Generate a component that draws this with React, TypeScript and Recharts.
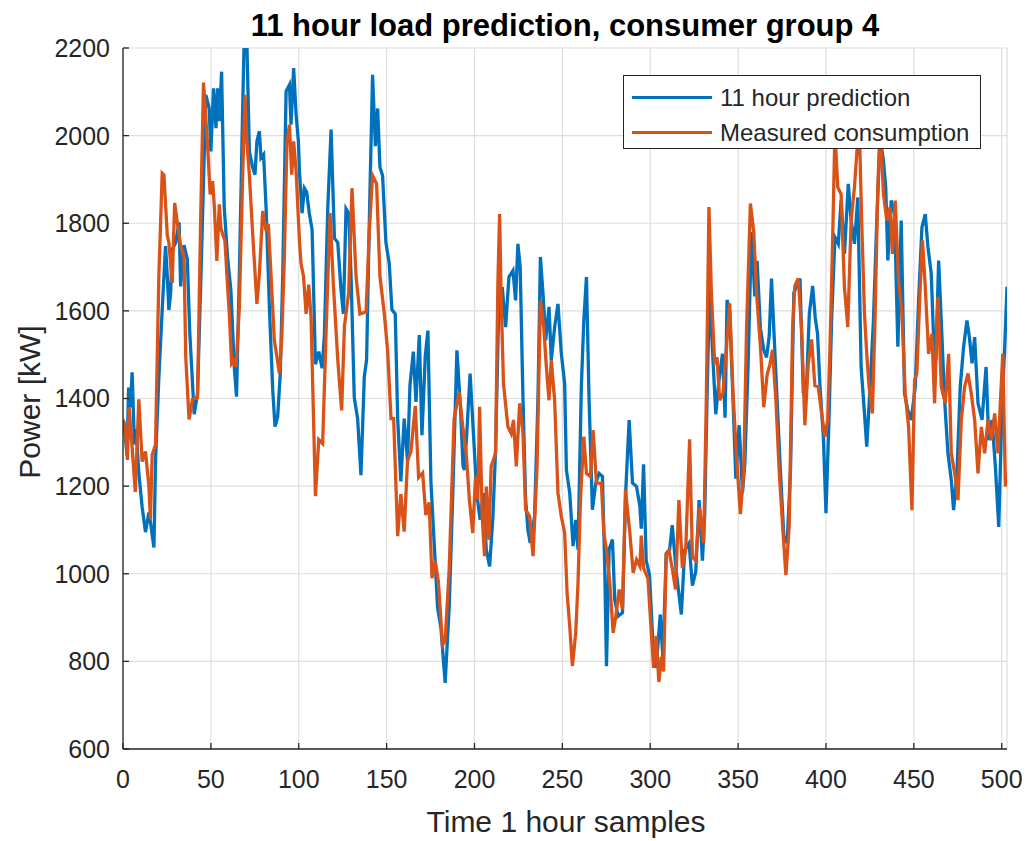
import { LineChart, Line, XAxis, YAxis, CartesianGrid, Legend } from "recharts";

// [sample, kW]
const predictionPoints: [number, number][] = [
  [0, 1340], [0.5, 1348], [2.3, 1270], [3.2, 1425], [4.2, 1380], [5.2, 1460], [6.5, 1295], [7.5, 1330],
  [9, 1230], [10.9, 1152], [12.8, 1095], [14.7, 1140], [15.6, 1118], [17.6, 1060], [18.5, 1256], [20.4, 1448],
  [22.3, 1602], [24.2, 1748], [25.2, 1680], [26.1, 1602], [27.1, 1640], [28, 1740], [30, 1756], [31.9, 1802],
  [32.8, 1656], [34.7, 1750], [36.6, 1718], [38, 1550], [40.5, 1364], [42.4, 1410], [44.5, 1700], [47.1, 2093],
  [49, 2063], [50, 1964], [51.5, 2108], [52.9, 2017], [53.8, 2108], [54.8, 2033], [56.1, 2146], [57.6, 1836],
  [59.5, 1722], [61.4, 1646], [62.4, 1555], [63.3, 1472], [64.6, 1404], [66.2, 1684], [68.1, 2063], [69, 2230],
  [70.5, 2210], [71.9, 1964], [73.8, 1927], [75.1, 1911], [76.2, 1987], [77.6, 2010], [78.5, 1949], [80, 1957],
  [81.4, 1836], [83.3, 1608], [85.2, 1419], [86.5, 1336], [88, 1358], [89.5, 1457], [90.9, 1684], [92.8, 2101],
  [94.7, 2116], [95.6, 2025], [97.1, 2154], [98.5, 2048], [99.8, 1987], [100.4, 1919], [101.9, 1823],
  [103.2, 1880], [104.5, 1871], [106, 1823], [107.6, 1785], [109.5, 1478], [111.4, 1507], [113.3, 1469],
  [114.6, 1545], [116.5, 1833], [118.4, 2014], [120.3, 1766], [122.2, 1756], [124, 1651], [125.4, 1593],
  [126.9, 1833], [128.4, 1823], [129.7, 1689], [131.6, 1402], [133.5, 1354], [135.4, 1225], [137.3, 1450],
  [138.6, 1488], [140.2, 1813], [142, 2139], [143.6, 1976], [144.9, 2062], [146.2, 1928], [147.7, 1909],
  [149.6, 1756], [151.5, 1708], [153, 1603], [154.9, 1593], [156.3, 1354], [158.1, 1211], [160, 1354],
  [161.9, 1258], [163.3, 1431], [165.2, 1507], [166.7, 1392], [168.6, 1545], [170.1, 1316], [172, 1498],
  [173.5, 1555], [175.2, 1211], [177.1, 1067], [179, 923], [180.9, 876], [183.3, 751], [185.6, 923],
  [187.5, 1163], [190, 1510], [192, 1380], [193.5, 1245], [194.3, 1237], [195.6, 1320], [197.5, 1457],
  [199.4, 1320], [201.3, 1184], [203.2, 1123], [205.1, 1184], [206.7, 1055], [208.6, 1017], [210.5, 1131],
  [212, 1283], [213.9, 1624], [215.8, 1654], [217.7, 1563], [219.6, 1677], [221.9, 1692], [223.4, 1624],
  [224.7, 1753], [226, 1700], [227.6, 1397], [229.1, 1169], [230.4, 1100], [231.7, 1070], [234.2, 1131],
  [236.1, 1397], [237.5, 1723], [239, 1639], [240.5, 1533], [242.4, 1609], [243.7, 1487], [245.6, 1563],
  [247.5, 1616], [249.4, 1503], [251.3, 1434], [252.3, 1237], [254.2, 1184], [256.1, 1063], [257.6, 1123],
  [258.9, 1055], [260.8, 1427], [262.2, 1578], [263.7, 1677], [265.2, 1396], [267.1, 1146], [269, 1207],
  [270.9, 1229], [272.8, 1222], [274.1, 1017], [275.1, 789], [276.6, 1055], [278.5, 1078], [279.8, 941],
  [281.7, 903], [284.2, 911], [286.1, 1192], [288, 1351], [289.9, 1207], [292.2, 1199], [294.1, 1154],
  [294.9, 1103], [296.2, 1250], [297.7, 1030], [299.6, 997], [301.5, 842], [303.4, 785], [305.7, 907],
  [307.2, 810], [309.1, 1046], [311, 1054], [312.5, 1111], [314.8, 1005], [317.7, 907], [319.6, 1054],
  [322.1, 1070], [324, 973], [325.9, 1005], [327.8, 1168], [329.7, 1030], [331, 1136], [332.3, 1396],
  [333.8, 1657], [335.4, 1511], [337.3, 1364], [339.2, 1445], [341.1, 1502], [342.6, 1356], [343.7, 1625],
  [345.2, 1600], [347.1, 1396], [348.7, 1217], [350.6, 1339], [352.5, 1185], [353.8, 1250], [355.7, 1478],
  [357.6, 1780], [359.5, 1633], [360.8, 1714], [362.7, 1560], [364.6, 1511], [366.2, 1494], [367.7, 1543],
  [369, 1674], [370.3, 1560], [372.2, 1396], [374.1, 1233], [376, 1087], [377.9, 1070], [379.8, 1233],
  [381.7, 1641], [383.3, 1657], [385.2, 1674], [387.1, 1413], [388.6, 1396], [390.5, 1592], [392.4, 1657],
  [393.9, 1584], [395.2, 1548], [396.6, 1427], [398.5, 1313], [400, 1138], [401.7, 1351], [403.2, 1578],
  [405.1, 1768], [407, 1753], [408.6, 1852], [410.5, 1730], [412.7, 1890], [414.3, 1806], [416.2, 1753],
  [418.1, 1859], [420, 1472], [421.9, 1366], [423.2, 1290], [425.1, 1427], [427, 1578], [428.9, 1806],
  [430.8, 1996], [432.7, 1943], [434, 1882], [435.2, 1715], [437.1, 1852], [439, 1821], [440.9, 1518],
  [442.8, 1806], [444.7, 1411], [446.6, 1373], [448.5, 1351], [450.8, 1427], [452.7, 1624], [454.6, 1791],
  [456.5, 1821], [458, 1746], [459.9, 1685], [461.2, 1540], [462.5, 1487], [464.1, 1715], [465.6, 1578],
  [467.5, 1396], [469.4, 1275], [471.3, 1214], [472.6, 1145], [474.5, 1229], [476.4, 1427], [478.3, 1518],
  [480.2, 1578], [481.6, 1540], [483.1, 1480], [484.6, 1540], [486.5, 1389], [488.8, 1351], [491.1, 1472],
  [492.6, 1305], [494.5, 1351], [496.4, 1244], [498.3, 1107], [500.2, 1389], [501.7, 1518], [503, 1655],
];

const measuredPoints: [number, number][] = [
  [0, 1352], [1.3, 1333], [2.5, 1260], [3.5, 1380], [5, 1300], [7, 1187], [9, 1398], [10.9, 1256],
  [12.8, 1279], [14.7, 1202], [15.6, 1125], [16.6, 1271], [18.5, 1295], [20.4, 1679], [22.3, 1914],
  [23.3, 1910], [25.2, 1772], [26.1, 1756], [28, 1664], [29.4, 1846], [30.9, 1802], [32.8, 1748],
  [34.7, 1725], [35.7, 1495], [37.6, 1352], [39.5, 1398], [42.4, 1402], [44.3, 1833], [45.8, 2121],
  [48, 1987], [49.6, 1866], [51, 1896], [52, 1836], [53.4, 1714], [54.8, 1843], [55.7, 1790], [56.7, 1775],
  [58, 1760], [59.1, 1684], [60.5, 1593], [61.8, 1480], [63, 1487], [64.3, 1472], [66.2, 1608], [68.1, 1911],
  [69.4, 2093], [70.5, 1987], [71.9, 1911], [73.8, 1775], [76.2, 1616], [77.6, 1684], [79.5, 1828],
  [81.4, 1783], [82.7, 1798], [84.2, 1684], [86.1, 1533], [87.6, 1495], [89, 1457], [90.3, 1533],
  [91.8, 1722], [93.3, 1987], [94.7, 2025], [96, 1911], [97.1, 1987], [98.5, 1919], [100.4, 1760],
  [101.3, 1708], [102.7, 1679], [104.2, 1593], [105.7, 1660], [107, 1584], [109.5, 1177], [111.4, 1306],
  [113.6, 1297], [115.5, 1545], [117.8, 1823], [119.7, 1660], [122.2, 1488], [124.4, 1373], [126, 1565],
  [128.4, 1641], [130.3, 1880], [132.6, 1679], [134.8, 1593], [138.3, 1598], [140.2, 1785], [142, 1909],
  [144.3, 1890], [146.2, 1679], [148.7, 1593], [150.6, 1507], [152.5, 1354], [154, 1354], [156.3, 1086],
  [158.1, 1182], [160, 1096], [161.9, 1258], [163.8, 1278], [166.3, 1383], [168.2, 1220], [170.5, 1230],
  [172.3, 1134], [174.2, 1163], [175.8, 990], [177.7, 1029], [179.5, 981], [181.8, 837], [183.3, 847],
  [185.6, 1010], [188.4, 1354], [191.3, 1415], [193.3, 1336], [195.3, 1275], [197.1, 1169], [199, 1093],
  [200.6, 1222], [201.9, 1169], [202.9, 1381], [204.4, 1131], [205.7, 1040], [206.7, 1199], [208.2, 1078],
  [209.5, 1245], [212, 1275], [213.3, 1662], [214.3, 1821], [215.2, 1624], [216.5, 1434], [219, 1336],
  [220.9, 1320], [222.2, 1351], [223.8, 1245], [225.7, 1389], [227.6, 1320], [229.1, 1146], [231.4, 1131],
  [233.3, 1040], [235.6, 1245], [237.5, 1624], [239.4, 1563], [240.9, 1472], [242.4, 1396], [243.7, 1487],
  [245.6, 1396], [247.5, 1184], [249.4, 1131], [251.3, 1093], [252.7, 956], [254.2, 880], [255.7, 789],
  [257.6, 865], [258.9, 979], [260.3, 1169], [262.2, 1313], [263.7, 1229], [266, 1222], [267.5, 1328],
  [269.4, 1207], [272.2, 1207], [273.6, 1093], [275.1, 1055], [277, 979], [278.9, 865], [280.4, 903],
  [282.3, 964], [284.2, 918], [285.9, 1192], [288.4, 1093], [290.3, 1002], [292.2, 1032], [294.1, 1017],
  [294.9, 1087], [296.2, 1013], [298.7, 989], [300.6, 867], [301.9, 785], [303.4, 858], [304.9, 753],
  [306.3, 810], [307.6, 777], [309.1, 1046], [310.6, 1054], [312.5, 1013], [314.4, 964], [316.3, 1168],
  [318.3, 1013], [320.2, 1054], [322.4, 1307], [324, 1038], [325.9, 1030], [328.1, 1152], [330.4, 1070],
  [331.9, 1396], [333.4, 1837], [334.8, 1641], [336.7, 1478], [338, 1494], [339.5, 1396], [341.4, 1413],
  [343.3, 1511], [345.2, 1617], [347.1, 1413], [349, 1274], [351.3, 1136], [353.2, 1233], [354.8, 1560],
  [357, 1845], [358.9, 1780], [360.5, 1641], [362.7, 1519], [364.6, 1380], [366.5, 1454], [368.1, 1478],
  [369.6, 1511], [371.5, 1396], [373.4, 1233], [375.3, 1111], [377.2, 997], [379.1, 1111], [381, 1560],
  [382.3, 1657], [384.2, 1674], [386.1, 1560], [388, 1339], [389.9, 1478], [391.8, 1535], [393.7, 1429],
  [395.6, 1427], [397.5, 1366], [399.4, 1313], [401, 1351], [402.3, 1518], [403.6, 1730], [405.1, 2010],
  [406.7, 1882], [408.6, 1867], [410.5, 1654], [412.4, 1563], [414.3, 1806], [416.2, 1882], [417.5, 1958],
  [418.8, 2050], [420.3, 1806], [421.9, 1594], [423.2, 1502], [424.5, 1427], [426.4, 1366], [427.9, 1578],
  [429.5, 1882], [430.8, 2020], [432.7, 1867], [434.6, 1806], [436.5, 1837], [437.8, 1730], [439.4, 1852],
  [441.3, 1670], [443.2, 1594], [445.1, 1411], [447, 1335], [448.9, 1145], [450.4, 1442], [451.7, 1457],
  [453.6, 1654], [454.9, 1761], [456.5, 1654], [458.4, 1502], [460.3, 1548], [461.8, 1389], [463.7, 1632],
  [465.6, 1427], [467.9, 1389], [469.8, 1502], [471.3, 1275], [473.6, 1221], [475.1, 1168], [477, 1351],
  [478.9, 1427], [480.8, 1457], [482.7, 1411], [484.6, 1351], [486.5, 1229], [488.4, 1335], [490.3, 1275],
  [492.2, 1351], [494.1, 1305], [496, 1366], [497.9, 1275], [499.2, 1389], [500.6, 1502], [502.1, 1199],
  [503, 1230],
];

const xTicks = [0, 50, 100, 150, 200, 250, 300, 350, 400, 450, 500];
const yTicks = [600, 800, 1000, 1200, 1400, 1600, 1800, 2000, 2200];

const prediction = predictionPoints.map(([s, v]) => ({ s, v }));
const measured = measuredPoints.map(([s, v]) => ({ s, v }));

const BLUE = "#0072BD";
const ORANGE = "#D95319";
const INK = "#262626";
const FONT = "'Liberation Sans', Arial, Helvetica, sans-serif";

const legendItems = [
  { name: "11 hour prediction", color: BLUE },
  { name: "Measured consumption", color: ORANGE },
];

function LegendBox() {
  return (
    <div
      style={{
        width: 358, height: 74, background: "#fff", border: `1.3px solid ${INK}`,
        fontFamily: FONT, fontSize: 24, color: INK, boxSizing: "border-box",
        paddingTop: 4,
      }}
    >
      {legendItems.map((it) => (
        <div key={it.name} style={{ display: "flex", alignItems: "center", height: 35 }}>
          <span style={{ display: "inline-block", width: 80, height: 3, background: it.color, marginLeft: 8, marginRight: 8 }} />
          <span style={{ lineHeight: "35px" }}>{it.name}</span>
        </div>
      ))}
    </div>
  );
}

export default function App() {
  const tickStyle = { fill: INK, fontSize: 25, fontFamily: FONT };
  return (
    <div style={{ position: "absolute", left: 0, top: 0, width: 1030, height: 841, background: "#fff" }}>
      <LineChart width={1030} height={841} margin={{ top: 48, right: 23, bottom: 0, left: 0 }}>
        <CartesianGrid stroke="#dedede" strokeWidth={1.2} />
        <XAxis
          dataKey="s" type="number" domain={[0, 503]} ticks={xTicks} allowDataOverflow
          height={92} tick={tickStyle} tickSize={-6} tickMargin={27}
          stroke={INK} strokeWidth={1.3} tickLine={{ stroke: INK }}
        />
        <XAxis
          xAxisId="top" orientation="top" dataKey="s" type="number" domain={[0, 503]} ticks={xTicks}
          allowDataOverflow height={0} tick={false} tickSize={-6} stroke={INK} strokeWidth={1.3}
        />
        <YAxis
          type="number" domain={[600, 2200]} ticks={yTicks} allowDataOverflow width={123}
          tick={tickStyle} tickSize={-6} tickMargin={19} stroke={INK} strokeWidth={1.3}
        />
        <YAxis
          yAxisId="right" orientation="right" type="number" domain={[600, 2200]} ticks={yTicks}
          allowDataOverflow width={0} tick={false} tickSize={-6} stroke={INK} strokeWidth={1.3}
        />
        <Line data={prediction} dataKey="v" name="11 hour prediction" stroke={BLUE} strokeWidth={3.3}
          dot={false} type="linear" isAnimationActive={false} />
        <Line data={measured} dataKey="v" name="Measured consumption" stroke={ORANGE} strokeWidth={3.3}
          dot={false} type="linear" isAnimationActive={false} />
        <Legend
          layout="horizontal" verticalAlign="middle" align="center"
          content={() => <LegendBox />}
          wrapperStyle={{ position: "absolute", left: 623, top: 75, width: 358, height: 74 }}
        />
      </LineChart>
      <svg width={1030} height={841} style={{ position: "absolute", left: 0, top: 0, pointerEvents: "none" }}>
        <text x={565} y={36} textAnchor="middle" fontFamily={FONT} fontSize={31} fontWeight="bold" fill="#000">
          11 hour load prediction, consumer group 4
        </text>
        <text x={566} y={832} textAnchor="middle" fontFamily={FONT} fontSize={30} fill={INK}>
          Time 1 hour samples
        </text>
        <text x={40} y={402} textAnchor="middle" fontFamily={FONT} fontSize={30} fill={INK}
          transform="rotate(-90 40 402)">
          Power [kW]
        </text>
      </svg>
    </div>
  );
}
